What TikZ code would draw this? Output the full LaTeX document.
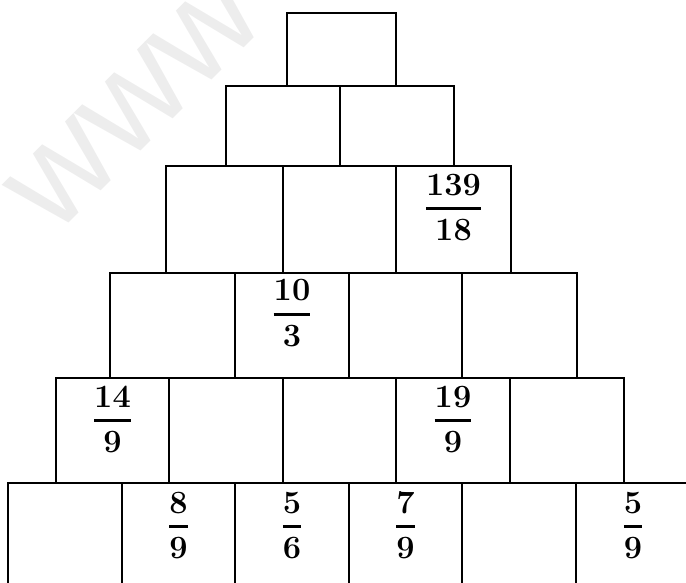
\documentclass[tikz,border=0pt]{standalone}
\usepackage{amsmath}
\usepackage{fontspec}
\newfontfamily\wmfont{Liberation Sans}
\usetikzlibrary{positioning}

\tikzset{
  cell/.style={line width=2pt},
  frc/.style={anchor=base, inner sep=0pt, font=\fontsize{32.5}{38}\selectfont},
}
\newcommand{\bfrac}[2]{$\genfrac{}{}{3pt}{0}{\textbf{#1}\rule[-3pt]{0pt}{3pt}}{\textbf{#2}}$}

\begin{document}
\begin{tikzpicture}[x=1pt, y=-1pt]
\useasboundingbox (0,0) rectangle (686,583);
\clip (0,0) rectangle (686,583);
% faint watermark
\node[rotate=45, text=black!7, inner sep=0pt,
  font=\wmfont\fontsize{140}{140}\selectfont] (wmark) at (136,104) {www};
% pyramid rows, top to bottom
\draw[cell] (287,13) rectangle (396,86);
\foreach \a/\b in {226/340,340/454}
  \draw[cell] (\a,86) rectangle (\b,166);
\foreach \a/\b in {166/283,283/396,396/511}
  \draw[cell] (\a,166) rectangle (\b,273);
\foreach \a/\b in {110/235,235/349,349/462,462/577}
  \draw[cell] (\a,273) rectangle (\b,378);
\foreach \a/\b in {56/169,169/283,283/396,396/510,510/624}
  \draw[cell] (\a,378) rectangle (\b,483);
\foreach \a/\b in {8/122,122/235,235/349,349/462,462/576,576/690}
  \draw[cell] (\a,483) rectangle (\b,600);
% given values
\node[frc] (v139) at (453.5,215) {\bfrac{139}{18}};
\node[frc] (v10) at (292,320.5) {\bfrac{10}{3}};
\node[frc] (v14) at (112.5,427) {\bfrac{14}{9}};
\node[frc] (v19) at (453,427) {\bfrac{19}{9}};
\node[frc] (v8) at (178.5,533) {\bfrac{8}{9}};
\node[frc] (v5a) at (292,533) {\bfrac{5}{6}};
\node[frc] (v7) at (405.5,533) {\bfrac{7}{9}};
\node[frc] (v5b) at (633,533) {\bfrac{5}{9}};
\end{tikzpicture}
\end{document}
